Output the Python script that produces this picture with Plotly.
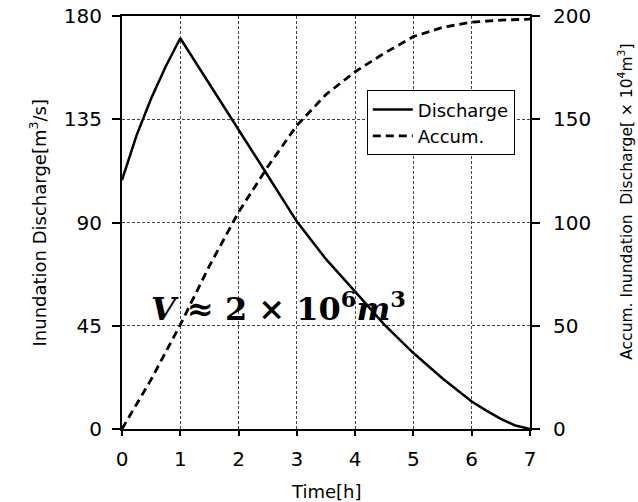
import plotly.graph_objects as go

# ---- data ----
time_discharge = [0, 0.25, 0.5, 0.75, 1, 1.5, 2, 2.5, 3, 3.5, 4, 4.5, 5, 5.5, 6, 6.25, 6.5, 6.75, 7]
discharge = [108.5, 128, 144, 158, 170.3, 150.5, 130.3, 110.5, 90.4, 74, 59.9, 45.5, 33.1, 22, 12, 8, 4.4, 1.5, 0]

time_accum = [0, 0.5, 1, 1.5, 2, 2.5, 3, 3.5, 4, 4.5, 5, 5.5, 6, 6.5, 7]
accum = [0, 24, 50.5, 79, 105, 127, 147, 162, 173, 182, 190, 194.5, 197, 198, 198.5]

x_ticks = [0, 1, 2, 3, 4, 5, 6, 7]
y_left_ticks = [0, 45, 90, 135, 180]
y_right_ticks = [0, 50, 100, 150, 200]

FONT = "DejaVu Sans"

fig = go.Figure()
fig.add_trace(go.Scatter(
    x=time_discharge, y=discharge, mode="lines", name="Discharge",
    line=dict(color="black", width=2.5), yaxis="y", xaxis="x"))
fig.add_trace(go.Scatter(
    x=time_accum, y=accum, mode="lines", name="Accum.",
    line=dict(color="black", width=2.8, dash="8px,5px"), yaxis="y2", xaxis="x"))

grid = dict(showgrid=True, gridcolor="#444444", gridwidth=1, griddash="3px,2px")

fig.update_layout(
    width=638, height=502,
    margin=dict(l=122, r=108, t=16, b=73, autoexpand=False),
    paper_bgcolor="white", plot_bgcolor="white",
    font=dict(family=FONT, color="black", size=20),
    showlegend=True,
    legend=dict(x=0.6, y=0.82, xanchor="left", yanchor="top",
                bgcolor="white", bordercolor="black", borderwidth=1,
                font=dict(size=18, family=FONT), tracegroupgap=0,
                itemwidth=40),
    xaxis=dict(range=[0, 7], tickvals=x_ticks, ticks="outside", ticklen=5,
               tickwidth=1.5, tickcolor="black", showline=True, linecolor="black",
               linewidth=2, mirror=True, zeroline=False, ticklabelstandoff=6,
               automargin=False, tickfont=dict(size=20), **grid),
    yaxis=dict(range=[0, 180], tickvals=y_left_ticks, ticks="outside", ticklen=8,
               tickwidth=1.5, tickcolor="black", showline=True, linecolor="black",
               linewidth=2, zeroline=False, ticklabelstandoff=6,
               automargin=False, tickfont=dict(size=20), **grid),
    yaxis2=dict(range=[0, 200], tickvals=y_right_ticks, ticks="outside", ticklen=8,
                tickwidth=1.5, tickcolor="black", showline=True, linecolor="black",
                linewidth=2, zeroline=False, overlaying="y", side="right",
                showgrid=False, ticklabelstandoff=9, automargin=False,
                tickfont=dict(size=20)),
    # inner halves of the crossing tick marks
    xaxis2=dict(range=[0, 7], tickvals=x_ticks, ticks="inside", ticklen=5,
                tickwidth=1.5, tickcolor="black", overlaying="x", anchor="y",
                showticklabels=False, showgrid=False, zeroline=False, showline=False,
                automargin=False),
    yaxis3=dict(range=[0, 180], tickvals=y_left_ticks, ticks="inside", ticklen=8,
                tickwidth=1.5, tickcolor="black", overlaying="y", anchor="x",
                side="left", showticklabels=False, showgrid=False, zeroline=False,
                showline=False, automargin=False),
    yaxis4=dict(range=[0, 200], tickvals=y_right_ticks, ticks="inside", ticklen=8,
                tickwidth=1.5, tickcolor="black", overlaying="y", anchor="x",
                side="right", showticklabels=False, showgrid=False, zeroline=False,
                showline=False, automargin=False),
)

annotations = [
    dict(text="Inundation Discharge[m<sup>3</sup>/s]", xref="paper", yref="paper",
         x=-0.206, y=0.5, textangle=-90, showarrow=False,
         font=dict(size=18, family=FONT), xanchor="center", yanchor="middle"),
    dict(text="Accum. Inundation\u00a0\u00a0Discharge[\u00a0×\u00a010<sup>4</sup>m<sup>3</sup>]",
         xref="paper", yref="paper", x=1.235, y=0.55, textangle=-90, showarrow=False,
         font=dict(size=15.5, family=FONT), xanchor="center", yanchor="middle"),
    dict(text="Time[h]", xref="paper", yref="paper", x=0.5, y=-0.1525,
         showarrow=False, font=dict(size=18, family=FONT),
         xanchor="center", yanchor="middle"),
    dict(text="<b><i>V</i> ≈ 2 × 10<sup>6</sup><i>m</i><sup>3</sup></b>",
         xref="x", yref="y", x=2.69, y=53, showarrow=False,
         font=dict(size=32, family="DejaVu Serif"),
         xanchor="center", yanchor="middle"),
]
fig.update_layout(annotations=annotations)

fig.write_html("out.html", config={"displayModeBar": False},
               post_script="document.body.style.margin='0';")
